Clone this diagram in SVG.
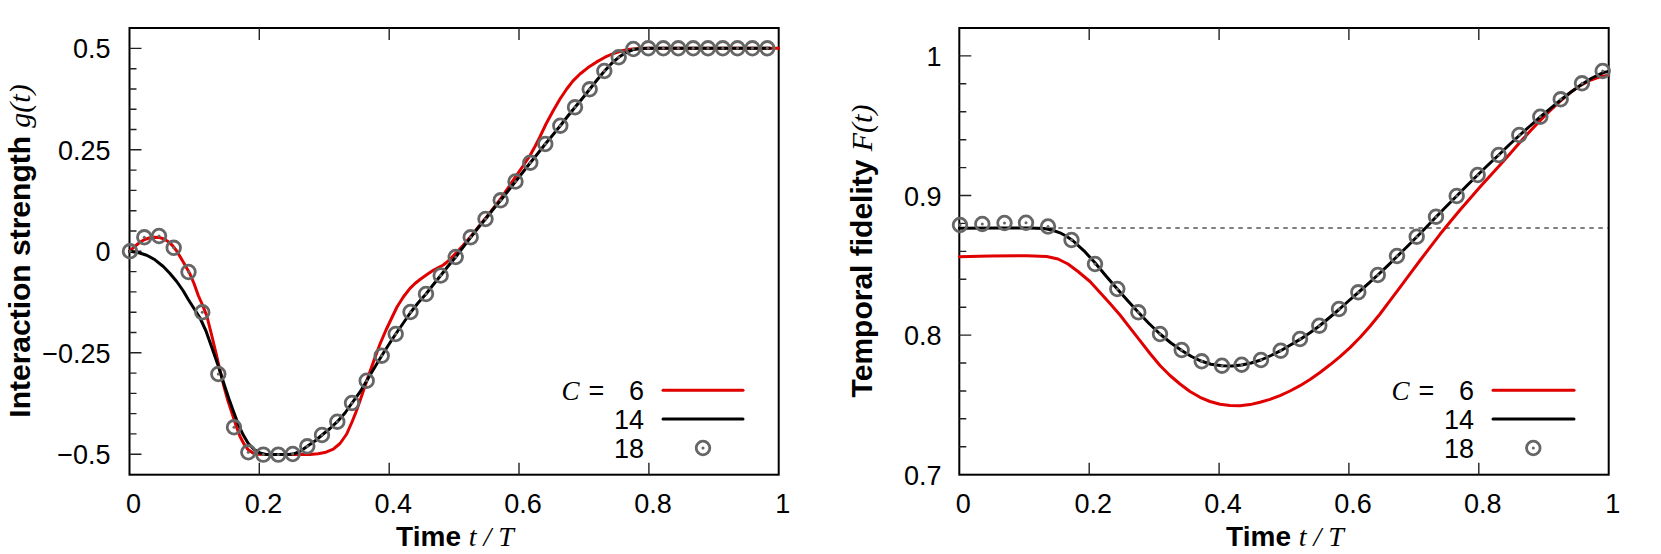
<svg xmlns="http://www.w3.org/2000/svg" width="1661" height="554" viewBox="0 0 1661 554">
<style>
.frame{fill:none;stroke:#000;stroke-width:2}
.tick{stroke:#222;stroke-width:1.4}
.tl{font-family:"Liberation Sans",Arial,sans-serif;font-size:27px;fill:#000}
.lab{font-family:"Liberation Sans",Arial,sans-serif;font-weight:bold;fill:#000}
.math{font-family:"Liberation Serif","Times New Roman",serif;font-style:italic;font-weight:normal}
.red{fill:none;stroke:#e00000;stroke-width:3;stroke-linejoin:round;stroke-linecap:round}
.blk{fill:none;stroke:#000;stroke-width:3;stroke-linejoin:round;stroke-linecap:round}
.dash{fill:none;stroke:#000;stroke-width:1.2;stroke-dasharray:4.5 4.5}
</style>
<defs>
<g id="pt"><circle r="6.8" fill="none" stroke="#666" stroke-width="2.8"/><circle r="1.5" fill="#666"/></g>
</defs>
<rect width="1661" height="554" fill="#fff"/>

<g id="left-panel">
<g id="left-axes">
<rect class="frame" x="129.5" y="28" width="649.2" height="446.7"/>
<path class="tick" d="M129.5 48.4h12M129.5 149.8h12M129.5 251.3h12M129.5 352.8h12M129.5 454.2h12
M129.5 68.7h7M129.5 89h7M129.5 109.3h7M129.5 129.5h7M129.5 170.1h7M129.5 190.4h7M129.5 210.7h7M129.5 231h7
M129.5 271.6h7M129.5 291.9h7M129.5 312.2h7M129.5 332.5h7M129.5 373.1h7M129.5 393.4h7M129.5 413.6h7M129.5 433.9h7
M259.3 474.7v-12M389.2 474.7v-12M519 474.7v-12M648.9 474.7v-12
M259.3 28v12M389.2 28v12M519 28v12M648.9 28v12"/>
<g class="tl" text-anchor="end">
<text x="110.5" y="58.4">0.5</text>
<text x="110.5" y="159.8">0.25</text>
<text x="110.5" y="261.3">0</text>
<text x="110.5" y="362.8">−0.25</text>
<text x="110.5" y="464.2">−0.5</text>
</g>
<g class="tl" text-anchor="middle">
<text x="133.5" y="513.3">0</text>
<text x="263.5" y="513.3">0.2</text>
<text x="393.3" y="513.3">0.4</text>
<text x="523" y="513.3">0.6</text>
<text x="652.9" y="513.3">0.8</text>
<text x="782.8" y="513.3">1</text>
</g>
<text class="lab" font-size="28" x="455" y="546" text-anchor="middle">Time <tspan class="math">t / T</tspan></text>
<text class="lab" font-size="30" transform="translate(29.5,251) rotate(-90)" text-anchor="middle">Interaction strength <tspan class="math">g(t)</tspan></text>
</g>
<g id="left-curves">
<polyline class="red" points="129.5,251.3 134,247 139,243 144,239.8 149,238 154,237.2 159,237.4 164,239 168,241.5 172,245 176,250 180,256.5 185,265 190,274 194,283.5 198.3,295.5 202.5,305 206.7,315.5 211.5,334.5 216.7,356 220,370.5 223.3,384 228,401 233.3,417 236.5,427 240,436.5 244,444 248.3,449.8 253,453 258,454.3 265,454.6 300,454.6 310,454.4 318,453.8 326,452.2 333.3,449.2 340,443.5 346.7,434 352,422 356,412 360,400.7 365,386 370,371.5 375,357.5 380,344 386,330 391.7,318 397,307 403.3,297 410,288.3 415,283.5 420,279.5 427,274.5 433.3,270.3 438,267.8 443.3,265 447,262 451.7,257.5 456.7,252.3 463,245.5 470.7,236.6 478,227.5 485.5,218.3 493,208.6 500.7,198.6 508,188 515,177.5 523,166 530,155.5 535,146.5 540,136.7 546,124 553.3,110.5 560,99 566.7,89 573,80.8 580,74 588,67.6 596.7,61.9 605,57.2 613.3,53.5 622,50.8 630,49.3 640,48.5 650,48.3 778.7,48.3"/>
<polyline class="blk" points="129.5,251.3 138,252.5 146.7,255.2 155,259.8 163.3,266.5 170,273.5 176.7,281.5 183,290.5 188.3,299.5 194,308.5 200,318 206,331 212,348 218.3,366 224,384 229,399 233.3,411 238,423.5 243,434.5 248.3,443.5 254,449.5 260,453 266,454.4 272,454.6 288,454.6 293,454.1 300,451.5 307.3,446.3 315,441 322,435 330,428.5 337.3,421.7 345,413 352,403 360,392 366.7,380.7 374,368.5 381.7,355.7 388.5,345 395.7,334 403,323.5 410.5,312.5 418,303 426,294 433,285 440.7,275.5 448,266.3 455.7,257 463,247.3 470.7,237.3 478,228 485.5,219 493,209.5 500.7,200.3 508,191 515.5,181.5 523,172 530.3,162.7 538,153.3 545.3,144 553,134.8 560.3,125.7 567.5,116.5 575,107.3 582.5,98.3 589.7,89.3 597,80 604.3,71.3 611.5,63.5 618.7,57.3 626,52.6 633.3,49.6 641,48.6 648.3,48.3 770,48.3"/>
<g id="left-points">
<use href="#pt" x="130" y="251.3"/><use href="#pt" x="144.3" y="237.3"/><use href="#pt" x="159" y="236"/><use href="#pt" x="173.7" y="247.8"/><use href="#pt" x="188.5" y="272"/><use href="#pt" x="202.3" y="312.3"/><use href="#pt" x="218.3" y="374"/><use href="#pt" x="234" y="427.3"/><use href="#pt" x="248.3" y="452.3"/><use href="#pt" x="263.3" y="454.6"/><use href="#pt" x="278.3" y="454.6"/><use href="#pt" x="292.7" y="454"/><use href="#pt" x="307.3" y="446.3"/><use href="#pt" x="322" y="435"/><use href="#pt" x="337.3" y="421.7"/><use href="#pt" x="352" y="403"/><use href="#pt" x="366.7" y="380.7"/><use href="#pt" x="381.7" y="355.7"/><use href="#pt" x="395.7" y="334"/><use href="#pt" x="410.5" y="312"/><use href="#pt" x="426" y="294"/><use href="#pt" x="440.7" y="275.5"/><use href="#pt" x="455.7" y="257"/><use href="#pt" x="470.7" y="237.3"/><use href="#pt" x="485.5" y="219"/><use href="#pt" x="500.7" y="200.3"/><use href="#pt" x="515.5" y="181.5"/><use href="#pt" x="530.3" y="162.7"/><use href="#pt" x="545.3" y="144"/><use href="#pt" x="560.3" y="125.7"/><use href="#pt" x="575" y="107.3"/><use href="#pt" x="589.7" y="89.3"/><use href="#pt" x="604.3" y="71"/><use href="#pt" x="618.7" y="57.3"/><use href="#pt" x="633.3" y="49"/><use href="#pt" x="648.3" y="48.3"/><use href="#pt" x="663.3" y="48.3"/><use href="#pt" x="678.3" y="48.3"/><use href="#pt" x="693.2" y="48.3"/><use href="#pt" x="708" y="48.3"/><use href="#pt" x="722.8" y="48.3"/><use href="#pt" x="737.5" y="48.3"/><use href="#pt" x="752.4" y="48.3"/><use href="#pt" x="767.3" y="48.3"/>
</g>
</g>
<g id="left-legend">
<text class="math" font-size="27" x="561.5" y="400" fill="#000">C</text>
<text class="tl" x="596.3" y="400" text-anchor="middle">=</text>
<text class="tl" x="644" y="400" text-anchor="end">6</text>
<text class="tl" x="644" y="428.7" text-anchor="end">14</text>
<text class="tl" x="644" y="457.7" text-anchor="end">18</text>
<line class="red" x1="663" y1="390.3" x2="743" y2="390.3" stroke-linecap="butt"/>
<line class="blk" x1="663" y1="419" x2="743" y2="419" stroke-linecap="butt"/>
<use href="#pt" x="703" y="448"/>
</g>
</g>

<g id="right-panel">
<g id="right-axes">
<rect class="frame" x="959.3" y="28" width="649.4" height="446.7"/>
<path class="tick" d="M959.3 55.9h12M959.3 195.5h12M959.3 335.1h12
M959.3 83.8h7M959.3 111.8h7M959.3 139.7h7M959.3 167.6h7M959.3 223.4h7M959.3 251.4h7M959.3 279.3h7M959.3 307.2h7M959.3 363h7M959.3 391h7M959.3 418.8h7M959.3 446.8h7
M1089.2 474.7v-12M1219.1 474.7v-12M1348.9 474.7v-12M1478.8 474.7v-12
M1089.2 28v12M1219.1 28v12M1348.9 28v12M1478.8 28v12"/>
<line class="dash" x1="959.3" y1="228" x2="1608.7" y2="228"/>
<g class="tl" text-anchor="end">
<text x="941.5" y="65.9">1</text>
<text x="941.5" y="205.5">0.9</text>
<text x="941.5" y="345.1">0.8</text>
<text x="941.5" y="484.7">0.7</text>
</g>
<g class="tl" text-anchor="middle">
<text x="963.3" y="513.3">0</text>
<text x="1093.2" y="513.3">0.2</text>
<text x="1223.1" y="513.3">0.4</text>
<text x="1352.9" y="513.3">0.6</text>
<text x="1482.8" y="513.3">0.8</text>
<text x="1612.7" y="513.3">1</text>
</g>
<text class="lab" font-size="28" x="1285" y="546" text-anchor="middle">Time <tspan class="math">t / T</tspan></text>
<text class="lab" font-size="30" transform="translate(871.5,251) rotate(-90)" text-anchor="middle">Temporal fidelity <tspan class="math">F(t)</tspan></text>
</g>
<g id="right-curves">
<polyline class="red" points="959.3,256.7 990,256 1026.7,255.7 1046.7,256.5 1058,259 1068,264 1078,271.5 1090,281.5 1100,292.5 1110,303.5 1120,315 1130,327.8 1140,340.7 1150,353.5 1160,365.5 1170,375.5 1180,384 1190,391.5 1200,397.3 1210,401.5 1220,404.2 1230,405.6 1240,405.8 1250,404.6 1260,402.3 1270,399.4 1280,395.7 1290,391 1300,385.7 1310,379.5 1320,372.5 1330,364.8 1340,356.7 1350,347.6 1360,337.5 1370,326.3 1380,314 1390,300.7 1400,287.3 1410,273.8 1420,260.5 1430,247.3 1440,234.3 1450,222 1460,210 1470,198.5 1480,187 1490,176 1500,165 1510,153.7 1520,142.3 1530,131.3 1540,120.7 1550,110.7 1560,101.3 1570,92.8 1580,85.6 1590,80.3 1600,76.8 1608.7,75.2"/>
<polyline class="blk" points="959.3,228.3 1000,228.1 1030,228 1044,228.6 1052,230 1060,232.8 1066,236 1072.7,240.5 1084,250.8 1095,262.8 1106,276 1117.3,289 1128,301 1138.3,312.3 1149,323.5 1160,334 1171,343 1181.7,350.5 1191.5,356.5 1201.7,361.3 1211,364.2 1222,365.8 1232,366 1241.7,365 1251,363 1261,360 1271,355.5 1280.7,350.7 1290,345.3 1300,339.4 1310,332.8 1319.3,326 1329,318 1339,309.5 1348.5,301 1358.3,292.5 1368,283.8 1377.8,275 1387.5,265.8 1397,256.5 1407,246.7 1416.7,237 1426.5,227 1436,217 1446.5,206.3 1456.7,196 1467,185.5 1477.7,175 1488,165 1498.7,155 1509,145 1519.3,135.5 1530,126 1540.3,117 1550.5,108.3 1560.7,100 1571,92 1582,84.3 1592,78 1602.7,72.8 1607.5,71.6"/>
<g id="right-points">
<use href="#pt" x="960" y="225"/><use href="#pt" x="982.3" y="224"/><use href="#pt" x="1004.5" y="223"/><use href="#pt" x="1026" y="222.7"/><use href="#pt" x="1048" y="226.5"/><use href="#pt" x="1071.5" y="240"/><use href="#pt" x="1095" y="264"/><use href="#pt" x="1117.3" y="289"/><use href="#pt" x="1138.3" y="312.3"/><use href="#pt" x="1160" y="334"/><use href="#pt" x="1181.7" y="350"/><use href="#pt" x="1201.7" y="361.3"/><use href="#pt" x="1222" y="365.7"/><use href="#pt" x="1241.7" y="364.7"/><use href="#pt" x="1261" y="360"/><use href="#pt" x="1280.7" y="350.7"/><use href="#pt" x="1300" y="339"/><use href="#pt" x="1319.3" y="325.7"/><use href="#pt" x="1339" y="309"/><use href="#pt" x="1358.3" y="292.3"/><use href="#pt" x="1377.8" y="275"/><use href="#pt" x="1397" y="256"/><use href="#pt" x="1416.7" y="236.7"/><use href="#pt" x="1436" y="216.7"/><use href="#pt" x="1456.7" y="196"/><use href="#pt" x="1477.7" y="175"/><use href="#pt" x="1498.7" y="155"/><use href="#pt" x="1519.3" y="135"/><use href="#pt" x="1540.3" y="116.7"/><use href="#pt" x="1560.7" y="99.3"/><use href="#pt" x="1582" y="83.3"/><use href="#pt" x="1602.7" y="71"/>
</g>
</g>
<g id="right-legend">
<text class="math" font-size="27" x="1391.5" y="400" fill="#000">C</text>
<text class="tl" x="1426.3" y="400" text-anchor="middle">=</text>
<text class="tl" x="1474" y="400" text-anchor="end">6</text>
<text class="tl" x="1474" y="428.7" text-anchor="end">14</text>
<text class="tl" x="1474" y="457.7" text-anchor="end">18</text>
<line class="red" x1="1493" y1="390.3" x2="1574" y2="390.3" stroke-linecap="butt"/>
<line class="blk" x1="1493" y1="419" x2="1574" y2="419" stroke-linecap="butt"/>
<use href="#pt" x="1533.3" y="448"/>
</g>
</g>
</svg>
